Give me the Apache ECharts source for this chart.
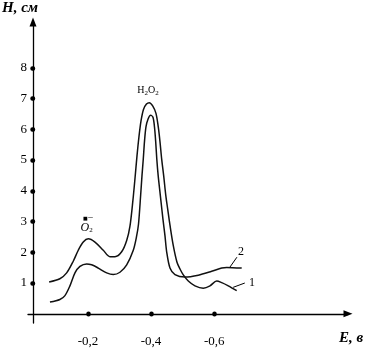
<!DOCTYPE html>
<html>
<head>
<meta charset="utf-8">
<script src="https://cdn.jsdelivr.net/npm/echarts@6/dist/echarts.min.js"></script>
<style>
html,body{margin:0;padding:0;background:#fff;}
#chart{width:372px;height:348px;}
</style>
</head>
<body>
<div id="chart"></div>
<script>
// Potential E (V) and peak height H (cm)
const curve1E = [-0.077,-0.111,-0.1325,-0.1534,-0.1693,-0.1851,-0.201,-0.2222,-0.2485,-0.2697,-0.2856,-0.3068,-0.3227,-0.3331,-0.3426,-0.349,-0.3553,-0.3616,-0.368,-0.3759,-0.3854,-0.3943,-0.4051,-0.4155,-0.4228,-0.4282,-0.4336,-0.4399,-0.4465,-0.4529,-0.4599,-0.4704,-0.4821,-0.4916,-0.5021,-0.5179,-0.5391,-0.5654,-0.5867,-0.6079,-0.6238,-0.6447,-0.6713];
const curve1H = [1.035,1.139,1.329,1.709,2.066,2.332,2.437,2.332,2.066,1.858,1.858,2.016,2.383,2.848,3.703,4.399,5.127,5.759,6.266,6.646,6.82,6.867,6.763,6.519,6.076,5.601,5.032,4.494,3.861,3.386,2.88,2.215,1.677,1.456,1.266,1.066,0.908,0.832,0.908,1.066,1.013,0.908,0.75];
const curve2E = [-0.0796,-0.111,-0.1271,-0.1429,-0.1588,-0.1746,-0.1959,-0.2117,-0.2326,-0.2593,-0.2802,-0.3014,-0.3227,-0.3436,-0.3537,-0.3601,-0.367,-0.3712,-0.3753,-0.3791,-0.3838,-0.3902,-0.3987,-0.406,-0.4108,-0.4146,-0.4181,-0.4225,-0.4292,-0.4377,-0.4441,-0.4494,-0.4599,-0.4757,-0.5074,-0.5496,-0.5921,-0.6238,-0.6396,-0.6872];
const curve2H = [0.38,0.465,0.592,0.908,1.329,1.541,1.623,1.592,1.487,1.329,1.275,1.351,1.592,2.066,2.5,2.911,3.861,4.494,5.032,5.601,6.076,6.329,6.456,6.392,6.076,5.601,5.032,4.494,3.861,3.07,2.532,2.016,1.487,1.275,1.193,1.256,1.383,1.487,1.509,1.487];
const xTicks = [-0.2,-0.4,-0.6];
const yTicks = [1,2,3,4,5,6,7,8];

const zip = (a,b) => a.map((v,i)=>[v,b[i]]);
const serif = "'Liberation Serif','DejaVu Serif',serif";

const lineStyle = {color:'#111', width:1.5};
const leaderStyle = {color:'#000', width:1, type:'solid'};

const option = {
  animation:false,
  title:[
    {text:'H, см', left:2, top:1, padding:0, textStyle:{fontFamily:serif, fontStyle:'italic', fontWeight:'bold', fontSize:15, color:'#000'}},
    {text:'E, в', left:339, top:331, padding:0, textStyle:{fontFamily:serif, fontStyle:'italic', fontWeight:'bold', fontSize:15, color:'#000'}}
  ],
  grid:{left:28, right:24, top:22, bottom:16.5, containLabel:false},
  xAxis:{
    type:'value', inverse:true, min:-1.024, max:-0.01,
    axisLine:{onZero:true, symbol:['none','triangle'], symbolSize:[7,9], lineStyle:{color:'#000', width:1.3}},
    axisTick:{show:true, customValues:xTicks, length:0.5, lineStyle:{color:'#000', width:4.5, cap:'round'}},
    axisLabel:{customValues:xTicks, margin:12, fontFamily:serif, fontSize:13, color:'#000', formatter:v=>String(v).replace('.',',')},
    splitLine:{show:false}
  },
  yAxis:{
    type:'value', min:-0.3, max:9.49, offset:-5,
    axisLine:{show:true, symbol:['none','triangle'], symbolSize:[7,9], lineStyle:{color:'#000', width:1.3}},
    axisTick:{show:true, customValues:yTicks, length:0.5, lineStyle:{color:'#000', width:4.5, cap:'round'}},
    axisLabel:{customValues:yTicks, margin:6, fontFamily:serif, fontSize:13, color:'#000'},
    splitLine:{show:false}
  },
  series:[
    {
      type:'line', data:zip(curve1E,curve1H), smooth:0.3, symbol:'none', lineStyle:lineStyle, silent:true,
      markLine:{silent:true, symbol:['none','none'], label:{show:false}, lineStyle:leaderStyle,
        data:[[{coord:[-0.66,0.86]},{coord:[-0.697,1.0]}]]},
      markPoint:{silent:true, symbol:'rect', symbolSize:1, itemStyle:{color:'rgba(0,0,0,0)'},
        data:[
          {coord:[-0.72,1.02], label:{show:true, position:'inside', formatter:'1', fontFamily:serif, fontSize:12, color:'#000'}},
          {coord:[-0.39,7.25], label:{show:true, position:'inside', formatter:'{a|H}{s|2}{a|O}{s|2}', fontFamily:serif, color:'#000',
            rich:{a:{fontFamily:serif, fontSize:10, color:'#000', lineHeight:12}, s:{fontFamily:serif, fontSize:7, color:'#000', verticalAlign:'bottom', lineHeight:12}}}},
          {coord:[-0.196,2.93], label:{show:true, position:'inside', formatter:'{d|■}{m|−}\n{o|O}{s|2}', color:'#000',
            rich:{d:{fontFamily:"'DejaVu Sans',sans-serif", fontSize:5, color:'#000', lineHeight:8, verticalAlign:'bottom', padding:[0,0,0,3]}, m:{fontFamily:serif, fontSize:10, color:'#000', lineHeight:8, verticalAlign:'top'},
                  o:{fontFamily:serif, fontStyle:'italic', fontSize:12, color:'#000', lineHeight:12}, s:{fontFamily:serif, fontSize:7, color:'#000', verticalAlign:'bottom', lineHeight:12}}}}
        ]}
    },
    {
      type:'line', data:zip(curve2E,curve2H), smooth:0.3, symbol:'none', lineStyle:lineStyle, silent:true,
      markLine:{silent:true, symbol:['none','none'], label:{show:false}, lineStyle:leaderStyle,
        data:[[{coord:[-0.65,1.52]},{coord:[-0.672,1.84]}]]},
      markPoint:{silent:true, symbol:'rect', symbolSize:1, itemStyle:{color:'rgba(0,0,0,0)'},
        data:[
          {coord:[-0.685,2.03], label:{show:true, position:'inside', formatter:'2', fontFamily:serif, fontSize:12, color:'#000'}}
        ]}
    }
  ]
};
const chart = echarts.init(document.getElementById('chart'), null, {renderer:'canvas'});
chart.setOption(option);
</script>
</body>
</html>
